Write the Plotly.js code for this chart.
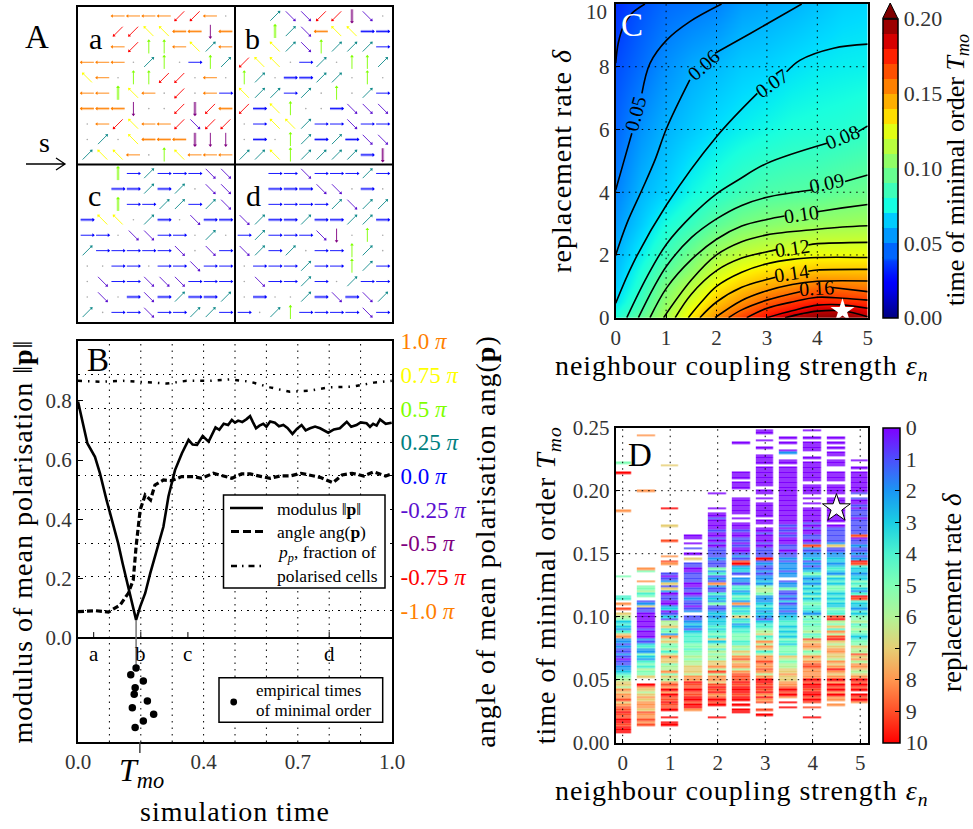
<!DOCTYPE html>
<html><head><meta charset="utf-8">
<script src="https://cdn.plot.ly/plotly-3.0.1.min.js"></script>
<style>html,body{margin:0;padding:0;background:#fff}
text[class*="title"]{letter-spacing:1px}</style></head><body>
<div id="plot" style="width:973px;height:829px"></div>
<script>
// ---------- Panel A: direction code per cell, row by row
// 0..7 = multiples of 45 degrees counter-clockwise from east, a..h = same but faint/thick, '.' = unpolarised, ' ' = empty
const fieldA=["  4444554.","  5533ee6e","  45224314","444.12.021","34.2255.4.","44c34.5.40","eee6..5g5e",".453445755",".1.3eeeg66","1334.23444"];
const fieldB=["  17755g7.","  c17e33aa","  31721110","533.01.221","21.aa11.2.","31101.2.10","5a32..a777",".033100700",".a.21a1a77","11321111ag"];
const fieldC=["  c0100077","  aa1a1.77","  c0011017","a33.1a.7aa","00.7700.1.","1000007.70","..00.00700",".700777000",".7.a7a1aa1","1.00700110"];
const fieldD=["  00700010","  aaa77.a.","  00001711","71aa1aa11a","0100076.2.","7101.0021.",".000100210",".70010.100",".a..1a7a71","0.12000070"];
const dirColors=["#0000ff","#108a8a","#7fff00","#ffff00","#ff7f00","#ff0000","#800080","#5a10d0"];

// ---------- Panel B
const modT=[0,.017,.03,.054,.07,.091,.112,.128,.142,.155,.168,.185,.198,.214,.23,.251,.272,.288,.309,.331,.352,.365,.379,.397,.416,.438,.45,.464,.478,.49,.5,.51,.523,.537,.548,.557,.567,.578,.59,.6,.612,.627,.64,.654,.667,.683,.697,.712,.725,.739,.755,.771,.785,.797,.815,.834,.845,.856,.87,.887,.9,.919,.93,.94,.951,.962,.98,.999];
const modV=[.797,.712,.656,.611,.555,.465,.387,.319,.252,.196,.139,.061,.106,.151,.218,.297,.375,.477,.566,.623,.668,.652,.651,.681,.662,.710,.702,.722,.718,.735,.726,.733,.728,.738,.748,.728,.707,.716,.722,.712,.730,.726,.714,.718,.708,.688,.705,.718,.700,.707,.713,.707,.699,.692,.703,.707,.718,.729,.712,.718,.727,.724,.712,.722,.716,.737,.722,.726];
const angT=[0,.054,.097,.134,.16,.176,.185,.198,.214,.231,.245,.272,.298,.33,.367,.394,.431,.463,.49,.521,.548,.585,.612,.644,.675,.71,.739,.771,.812,.841,.873,.91,.942,.98,.999];
const angV=[-1.007,-1,-1.01,-.958,-.871,-.772,-.525,-.252,-.141,-.178,-.067,-.03,-.035,-.005,-.005,-.017,.02,0,-.017,.015,.015,-.005,-.017,0,0,.02,.007,-.01,-.05,.007,.02,0,.03,0,.015];
const fracT=[0,.069,.144,.214,.283,.346,.416,.485,.548,.612,.675,.739,.8,.873,.942,.999];
const fracV=[.867,.864,.867,.862,.858,.867,.867,.872,.864,.845,.830,.834,.845,.847,.861,.867];
const emptT=[.185,.168,.208,.182,.179,.221,.173,.241,.208,.182];
const emptY=[-.101,-.124,-.145,-.168,-.190,-.212,-.235,-.257,-.280,-.302];
const tmoDip=.185, tmoTick=.197;
const snapT=[.05,.2,.35,.8], snapL=["a","b","c","d"];
const bGridX=[.1,.2,.3,.4,.5,.6,.7,.8,.9];
const bXTicks=[0,.4,.7,1];
const bXText=["0.0","0.4","0.7","1.0"];
const bLeftTicks=[0,.2,.4,.6,.8];
const bRightTicks=[1,.75,.5,.25,0,-.25,-.5,-.75,-1];
const bRightText=["1.0","0.75","0.5","0.25","0.0","-0.25","-0.5","-0.75","-1.0"];
const bRightColors=["#ff7f00","#ffff00","#7fff00","#008080","#0000ff","#5a10d0","#800080","#ff0000","#ff7f00"];

// ---------- Panel C
const epsC=[0,.5,1,1.5,2,2.5,3,3.5,4,4.5,5];
const delC=[0,.25,.5,1,1.5,2,3,4,6,8,10];
const zC=[
[.078,.094,.112,.133,.152,.169,.18,.192,.198,.2,.191],
[.074,.0885,.108,.129,.146,.16,.172,.179,.188,.188,.182],
[.0695,.085,.105,.1235,.14,.1515,.162,.17,.176,.174,.172],
[.065,.08,.0995,.1145,.13,.139,.146,.151,.158,.157,.155],
[.0625,.0765,.092,.105,.12,.129,.134,.1375,.141,.141,.141],
[.06,.072,.085,.098,.11,.118,.122,.1255,.128,.128,.128],
[.055,.065,.076,.0835,.0925,.099,.1025,.105,.107,.108,.109],
[.0505,.0605,.0665,.0745,.0795,.085,.0885,.09,.091,.094,.096],
[.045,.054,.06,.0645,.069,.072,.0745,.077,.078,.079,.081],
[.04,.0465,.0535,.0585,.0615,.065,.0665,.069,.071,.072,.0725],
[.034,.041,.046,.048,.0505,.056,.058,.06,.063,.066,.067]];
const c04=[[0,8.11],[.05,8.75],[.15,9.28],[.32,9.7],[.58,10]];
const c05=[[0,4.07],[.15,4.92],[.32,5.88],null,[.52,7.15],[.68,8.11],[1.01,8.85],[1.47,9.44],[2.1,10]];
const c06=[[0,2],[.22,3],[.52,4.07],[.78,5.03],[1.01,6.04],[1.47,7.58],null,[1.97,8.43],[2.67,9.06],[3.69,10]];
const c07=[[0,.46],[.35,1.75],[1.01,3.6],[2,5.77],[2.81,7.15],null,[3.39,7.84],[3.66,8.21],[4.32,8.59],[5,8.72]];
const c08=[[.22,0],[.62,1.3],[1.01,2.35],[1.54,3.3],[2,3.95],[2.43,4.39],[3,4.92],[4.19,5.56],null,[4.81,5.93],[5,6.11]];
const c09=[[.45,0],[.75,.95],[1.01,1.65],[1.5,2.55],[2,3.15],[2.5,3.58],[3,3.84],[3.89,4.07],null,[4.55,4.34],[5,4.55]];
const c10=[[.68,0],[1.01,.95],[1.5,1.85],[2,2.5],[2.5,2.92],[3,3.13],[3.35,3.24],null,[4,3.38],[4.5,3.5],[5,3.61]];
const c11=[[.95,0],[1.5,1.2],[2,2],[2.5,2.42],[3,2.64],[4,2.82],[4.5,2.89],[5,2.93]];
const c12=[[1.18,0],[1.5,.75],[2,1.5],[2.5,1.9],[3,2.1],[3.19,2.17],null,[3.82,2.32],[4,2.36],[5,2.4]];
const c13=[[1.44,0],[1.7,.5],[2,1],[2.5,1.45],[3,1.72],[3.5,1.86],[4,1.92],[5,1.92]];
const c14=[[1.67,0],[2,.5],[2.5,.97],[3,1.22],[3.17,1.29],null,[3.82,1.48],[4,1.52],[5,1.54]];
const c15=[[1.97,0],[2.5,.55],[3,.86],[3.5,1.06],[4,1.16],[5,1.17]];
const c16=[[2.24,0],[2.5,.25],[3,.56],[3.66,.83],null,[4.3,.96],[5,.83]];
const c17=[[2.6,0],[3,.3],[3.5,.5],[4,.65],[4.5,.62],[5,.56]];
const c18=[[3,0],[3.5,.22],[4,.4],[4.5,.41],[5,.3]];
const c19=[[3.36,0],[3.7,.13],[4,.21],[4.5,.22],[5,.03]];
const contoursC=[c04,c05,c06,c07,c08,c09,c10,c11,c12,c13,c14,c15,c16,c17,c18,c19];
const labelsC=[["0.05",.40,6.51,-75],["0.06",1.74,8.06,-42],["0.07",3.1,7.49,-35],["0.08",4.5,5.75,-22],["0.09",4.19,4.31,-12],["0.10",3.69,3.29,-8],["0.12",3.5,2.21,-8],["0.14",3.49,1.44,-8],["0.16",3.98,.96,-3]];
const levelsC=[.04,.05,.06,.07,.08,.09,.10,.11,.12,.13,.14,.15,.16,.17,.18,.19];

// ---------- Panel D: replacement rate digit per T row (T = .25 downward in .002 steps, five chunks of .05); a = 10, . = none
const epsD=[0,.5,1,1.5,2,2.5,3,3.5,4,4.5,5];
const colD0=["..............5...a......","........8................",".........5.......44.8.9.7","6534324782212112101122345","6776878897899a99aa9aaa..."];
const colD1=["...8.....................","8........................","......85...8.55645.127110","0000010002134225324546557","..a8767878887988989......"];
const colD2=["...............7.........",".......a......7.....9....",".8.98...10127172011002301","3166745286755646877566857","6898a8a99a99a..a.aa......"];
const colD3=[".........................","..................00.0.1.","0.7.11001111001101211012","1123213444455455656677768","8a99a99aa9aa8............"];
const colD4=[".........................",".0.....0.0010000100101011","1121115241218211423251123","2333434547356465657786968","879a9a89a9a....a........."];
const colD5=["......0...........000.000","...0000000.0.000100110100","1219a2331.221442354282434","7342344555446576897886899","9a9aaa9aa.a.aa..........."];
const colD6=[".00..0..0..0000.00000000.","00.0.000000.00.0010001011","11a1211212232566522234323","2134456745868746889889868","aa9a9a8a89..9.a.........."];
const colD7=["....0.0..02..00.000000000","0000000000000010101000110","1121222122.12251121312212","3344343435435554765667787","7889a9a8.a.a............."];
const colD8=[".0..0.0000..0.00000000.00","00.0.0.000000101001101921","2231212353232434353454432","5454556459788756878998888","a9aa9aa9a9.9...a........."];
const colD9=["....0.0.0.00.000..0000.00","00.0000000000.01111112711","2233234325343554343433544","9a6574869a76788776878a878","a8a9a8a88.8.............."];
const colD10=[".............0..0.0000000","01.1001011101111119011211","212a9433233545324a9433243","5564565434557669786887678","a9a9a.a9a8..............."];
const columnsD=[colD0,colD1,colD2,colD3,colD4,colD5,colD6,colD7,colD8,colD9,colD10];

// ---------- helpers
const W=973,H=829, SERIF="Liberation Serif, serif", TXT="#333";
const px=x=>x/W, py=y=>1-y/H;
const dx=(l,r)=>[l/W,r/W], dy=(t,b)=>[1-b/H,1-t/H];
function jet(t){const f=(p)=>{for(let i=1;i<p.length;i++){if(t<=p[i][0]){const a=p[i-1],b=p[i];return a[1]+(b[1]-a[1])*(t-a[0])/(b[0]-a[0]);}}return p[p.length-1][1];};
 const r=f([[0,0],[.35,0],[.66,1],[.89,1],[1,.5]]),g=f([[0,0],[.125,0],[.375,1],[.64,1],[.91,0],[1,0]]),b=f([[0,.5],[.11,1],[.34,1],[.65,0],[1,0]]);
 return `rgb(${Math.round(r*255)},${Math.round(g*255)},${Math.round(b*255)})`;}
const jetScale=[];for(let i=0;i<=50;i++)jetScale.push([i/50,jet(i/50)]);
const stepScale=[];
for(let i=0;i<=8;i++)stepScale.push([i/8*.19,jet(i/8*.19)]);
for(let k=4;k<20;k++){const a=k/20,b=(k+1)/20,c=jet((a+b)/2);stepScale.push([a+1e-4,c]);stepScale.push([b,c]);}
stepScale[0][0]=0;stepScale[stepScale.length-1][0]=1;
const rainbowScale=[[0,"#ff0000"],[.1,"#ff4f28"],[.2,"#ff964f"],[.3,"#e6ce74"],[.4,"#b2f396"],[.5,"#80ffb4"],[.6,"#4df3ce"],[.7,"#1acee3"],[.8,"#1a96f3"],[.9,"#4c4ffc"],[1,"#7f00ff"]];

const traces=[], shapes=[], annotations=[];
const ann=(text,x,y,size,extra)=>annotations.push(Object.assign({text,x:px(x),y:py(y),xref:"paper",yref:"paper",showarrow:false,font:{family:SERIF,size,color:"#000"},xanchor:"center",yanchor:"middle"},extra||{}));

// ---------- Panel A traces
function addField(field,ox,oy){
 field.forEach((row,j)=>{[...row].forEach((ch,i)=>{
  const cx=ox+.59+.98*i, cy=oy+.57+.98*j;
  if(ch==' ')return;
  if(ch=='.'){A.dots.x.push(cx);A.dots.y.push(cy);return;}
  const code="abcdefgh".indexOf(ch), thick=code>=0, k=thick?code:+ch;
  const th=k*Math.PI/4, ux=Math.cos(th)*.42, uy=-Math.sin(th)*.42;
  const L=A.dir[k];
  if(thick){L.px.push(cx-ux,cx+ux,null);L.py.push(cy-uy,cy+uy,null);}
  L.lx.push(cx-ux,cx+ux,null);L.ly.push(cy-uy,cy+uy,null);
  L.hx.push(cx+ux*.9);L.hy.push(cy+uy*.9);
 });});
}
const A={dots:{x:[],y:[]},dir:dirColors.map(()=>({lx:[],ly:[],px:[],py:[],hx:[],hy:[]}))};
addField(fieldA,0,0);addField(fieldB,10,0);addField(fieldC,0,10);addField(fieldD,10,10);
A.dir.forEach((L,k)=>{
 traces.push({x:L.px,y:L.py,mode:"lines",line:{color:dirColors[k],width:3},opacity:.32,xaxis:"x",yaxis:"y",hoverinfo:"skip"});
 traces.push({x:L.lx,y:L.ly,mode:"lines",line:{color:dirColors[k],width:.9},xaxis:"x",yaxis:"y",hoverinfo:"skip"});
 traces.push({x:L.hx,y:L.hy,mode:"markers",marker:{symbol:"triangle-up",size:3.2,color:dirColors[k],angle:90-45*k,line:{width:0}},xaxis:"x",yaxis:"y",hoverinfo:"skip"});
});
traces.push({x:A.dots.x,y:A.dots.y,mode:"markers",marker:{size:1.6,color:"#aaa"},xaxis:"x",yaxis:"y",hoverinfo:"skip"});

// ---------- Panel B traces
traces.push({x:[tmoDip,tmoDip],y:[.06,-.1],mode:"lines",line:{color:"#777",width:1.5},xaxis:"x2",yaxis:"y2"});
traces.push({x:fracT,y:fracV,mode:"lines",line:{color:"#000",width:2.5,dash:"4px,6px,1.5px,6px"},xaxis:"x2",yaxis:"y2"});
traces.push({x:modT,y:modV,mode:"lines",line:{color:"#000",width:2.6},xaxis:"x2",yaxis:"y2"});
traces.push({x:angT,y:angV,mode:"lines",line:{color:"#000",width:3.2,dash:"6px,3px"},xaxis:"x2",yaxis:"y3"});
traces.push({x:emptT,y:emptY,mode:"markers",marker:{color:"#000",size:7.5},xaxis:"x2",yaxis:"y2"});
traces.push({x:snapT.flatMap(t=>[t,t,null]),y:snapT.flatMap(()=>[0,.02,null]),mode:"lines",line:{color:"#000",width:1},xaxis:"x2",yaxis:"y2"});

// ---------- Panel C traces
traces.push({type:"heatmap",x:epsC,y:delC,z:zC,zmin:0,zmax:.2,colorscale:jetScale,zsmooth:"best",showscale:false,xaxis:"x3",yaxis:"y4"});
contoursC.forEach(c=>traces.push({x:c.map(p=>p?p[0]:null),y:c.map(p=>p?p[1]:null),mode:"lines",line:{color:"#000",width:1.6,shape:"spline",smoothing:1},xaxis:"x3",yaxis:"y4",hoverinfo:"skip"}));
traces.push({x:[4.5],y:[.22],mode:"markers",marker:{symbol:"star",size:18,color:"#fff",line:{width:0}},xaxis:"x3",yaxis:"y4"});
// colour bar of panel C
traces.push({x:[null],y:[null],mode:"markers",xaxis:"x3",yaxis:"y4",marker:{color:[0],cmin:0,cmax:.2,colorscale:stepScale,showscale:true,
 colorbar:{x:px(882.7),xanchor:"left",xpad:0,ypad:0,thickness:15,thicknessmode:"pixels",len:(317.7-18.3)/H,lenmode:"fraction",y:py(317.7),yanchor:"bottom",
 outlinecolor:"#000",outlinewidth:1.5,tickvals:[0,.05,.1,.15,.2],ticktext:["0.00","0.05","0.10","0.15","0.20"],ticks:"",tickfont:{family:SERIF,size:22,color:TXT}}}});
ann("time of minimal order <i>T<sub>mo</sub></i>",957,170,26,{textangle:-90});
levelsC.forEach(l=>{const yy=317.7-(317.7-18.3)*l/.2;shapes.push({type:"line",xref:"paper",yref:"paper",x0:px(882.7),x1:px(897.7),y0:py(yy),y1:py(yy),line:{color:"#000",width:1}});});
shapes.push({type:"path",xref:"paper",yref:"paper",path:`M${px(882.7)},${py(18.3)} L${px(890.2)},${py(3)} L${px(897.7)},${py(18.3)} Z`,fillcolor:"#7f0000",line:{color:"#000",width:1}});
labelsC.forEach(l=>annotations.push({text:l[0],x:l[1],y:l[2],xref:"x3",yref:"y4",showarrow:false,textangle:l[3],font:{family:SERIF,size:20,color:"#000"}}));
ann("10",609,12,21,{xanchor:"right",font:{family:SERIF,size:21,color:TXT}});

// ---------- Panel D traces
const rowsD=[];for(let i=0;i<125;i++)rowsD.push(.25-.002*i);
const strD=columnsD.map(c=>c.map(s=>(s+".".repeat(25)).slice(0,25)).join(""));
const zD=rowsD.map((_,r)=>strD.map(s=>{const ch=s[r];return ch=="."?null:(ch=="a"?-10:-(+ch));}));
traces.push({type:"heatmap",x:epsD,y:rowsD,z:zD,zmin:-10,zmax:0,colorscale:rainbowScale,xgap:5.7,ygap:.4,showscale:true,hoverongaps:false,xaxis:"x4",yaxis:"y5",
 colorbar:{x:px(882.7),xanchor:"left",xpad:0,ypad:0,thickness:16.6,thicknessmode:"pixels",len:315/H,lenmode:"fraction",y:py(742.7),yanchor:"bottom",outlinecolor:"#000",outlinewidth:1.5,
 tickvals:[0,-1,-2,-3,-4,-5,-6,-7,-8,-9,-10],ticktext:["0","1","2","3","4","5","6","7","8","9","10"],ticks:"inside",ticklen:5,tickcolor:"#000",tickfont:{family:SERIF,size:22,color:TXT}}});
traces.push({x:[4.5],y:[.186],mode:"markers",marker:{symbol:"star",size:21,color:"#fff",line:{width:1,color:"#000"}},xaxis:"x4",yaxis:"y5"});
ann("replacement rate <i>δ</i>",952,593,27,{textangle:-90});

// ---------- grid lines
const dot={color:"#000",width:1,dash:"1.5px,5px"};
bGridX.forEach(v=>shapes.push({type:"line",layer:"below",xref:"x2",yref:"paper",x0:v,x1:v,y0:py(742),y1:py(341),line:dot}));
[1,2,3,4].forEach(v=>shapes.push({type:"line",xref:"x3",yref:"y4",x0:v,x1:v,y0:0,y1:10,line:dot}));
[2,4,6,8].forEach(v=>shapes.push({type:"line",xref:"x3",yref:"y4",x0:0,x1:5,y0:v,y1:v,line:dot}));
[0,1,2,3,4,5].forEach(v=>shapes.push({type:"line",xref:"x4",yref:"y5",x0:v,x1:v,y0:0,y1:.25,line:dot}));
[.05,.1,.15,.2].forEach(v=>shapes.push({type:"line",xref:"x4",yref:"y5",x0:-.147,x1:5.158,y0:v,y1:v,line:dot}));

// ---------- Panel A decoration
shapes.push({type:"line",xref:"x",yref:"y",x0:10,x1:10,y0:0,y1:20,line:{color:"#000",width:2}});
shapes.push({type:"line",xref:"x",yref:"y",x0:0,x1:20,y0:10,y1:10,line:{color:"#000",width:2}});
shapes.push({type:"path",xref:"paper",yref:"paper",path:`M${px(26)},${py(164)} L${px(65)},${py(164)} M${px(56)},${py(158)} L${px(65)},${py(164)} L${px(56)},${py(170)}`,line:{color:"#000",width:1.3}});
ann("A",36.7,37,33);ann("s",44,142,28);
ann("a",95.7,38,30);ann("b",252.7,38,30);ann("c",94,196,30);ann("d",253,195,30);

// ---------- Panel B decoration
ann("B",98,360,33);
snapT.forEach((t,i)=>annotations.push({text:snapL[i],x:t,y:-.055,xref:"x2",yref:"y2",showarrow:false,font:{family:SERIF,size:21,color:"#000"}}));
shapes.push({type:"line",xref:"x2",yref:"paper",x0:tmoTick,x1:tmoTick,y0:py(742),y1:py(753),line:{color:"#444",width:1.5}});
ann("<i>T<sub>mo</sub></i>",141,772,32);
shapes.push({type:"rect",xref:"paper",yref:"paper",x0:px(223.5),x1:px(385),y0:py(495),y1:py(588),fillcolor:"#fff",line:{color:"#000",width:1.5}});
shapes.push({type:"line",xref:"paper",yref:"paper",x0:px(230),x1:px(263),y0:py(508),y1:py(508),line:{color:"#000",width:2.5}});
shapes.push({type:"line",xref:"paper",yref:"paper",x0:px(231),x1:px(263),y0:py(531.5),y1:py(531.5),line:{color:"#000",width:3,dash:"8px,4px"}});
shapes.push({type:"line",xref:"paper",yref:"paper",x0:px(231),x1:px(263),y0:py(566),y1:py(566),line:{color:"#000",width:2.5,dash:"6px,5px,1.5px,5px"}});
const lg={xanchor:"left"};
ann("modulus ‖<b>p</b>‖",275,509,17.5,lg);ann("angle ang(<b>p</b>)",275,532,17.5,lg);
ann("<i>p<sub>p</sub></i>, fraction of",275,553,17.5,lg);ann("polarised cells",275,576,17.5,lg);
shapes.push({type:"rect",xref:"paper",yref:"paper",x0:px(219),x1:px(382.7),y0:py(677.7),y1:py(722.3),fillcolor:"#fff",line:{color:"#000",width:1.5}});
ann("empirical times",254,690,17,lg);ann("of minimal order",254,710,17,lg);
ann("C",632,25,33,{font:{family:SERIF,size:33,color:"#fff"}});
ann("D",640,455,33);
shapes.push({type:"circle",xref:"paper",yref:"paper",x0:px(230.3),x1:px(237.1),y0:py(698.6),y1:py(705.4),fillcolor:"#000",line:{width:0}});

const axisLine={showline:true,linecolor:"#000",linewidth:2,mirror:true,zeroline:false};
const tf={family:SERIF,size:21,color:TXT};
const tt=(text,standoff)=>({text,standoff,font:{family:SERIF,size:28,color:"#000"}});
const layout={width:W,height:H,margin:{l:0,r:0,t:0,b:0,autoexpand:false},showlegend:false,paper_bgcolor:"#fff",plot_bgcolor:"rgba(0,0,0,0)",font:{family:SERIF},
 hovermode:false,shapes,annotations,
 xaxis:Object.assign({},axisLine,{domain:dx(78,392),range:[0,20],showticklabels:false,ticks:"",showgrid:false,anchor:"y"}),
 yaxis:Object.assign({},axisLine,{domain:dy(7,322),range:[20,0],showticklabels:false,ticks:"",showgrid:false,anchor:"x"}),
 xaxis2:Object.assign({},axisLine,{domain:dx(78,392),range:[0,1],anchor:"y2",tickvals:bXTicks,ticktext:bXText,ticks:"",tickfont:tf,showgrid:false,title:tt("simulation time",28)}),
 yaxis2:Object.assign({},axisLine,{domain:dy(341,742),range:[-.3506,1.0013],anchor:"x2",tickvals:bLeftTicks,tickformat:".1f",ticks:"inside",ticklen:5,tickcolor:"#000",tickfont:tf,showgrid:false,zeroline:true,zerolinecolor:"#000",zerolinewidth:2,title:tt("modulus of mean polarisation ‖<b>p</b>‖",5)}),
 yaxis3:{domain:dy(341,742),range:[-1.975,1.002],overlaying:"y2",side:"right",anchor:"x2",tickvals:bRightTicks,ticktext:bRightText.map((t,i)=>`<span style="color:${bRightColors[i]}">${t} <i>π</i></span>`),ticks:"outside",ticklen:3,tickcolor:"rgba(0,0,0,0)",tickfont:{family:SERIF,size:23,color:TXT},showgrid:true,gridcolor:"#000",griddash:"1.5px,5px",gridwidth:1,zeroline:false,showline:false,title:tt("angle of mean polarisation ang(<b>p</b>)",9)},
 xaxis3:Object.assign({},axisLine,{domain:dx(615.7,867.7),range:[0,5],anchor:"y4",tickvals:[0,1,2,3,4,5],ticks:"inside",ticklen:4,tickcolor:"#000",tickfont:tf,showgrid:false,title:tt("neighbour coupling strength <i>ε<sub>n</sub></i>",1)}),
 yaxis4:Object.assign({},axisLine,{domain:dy(4,317.7),range:[0,10],anchor:"x3",tickvals:[0,2,4,6,8],ticks:"inside",ticklen:4,tickcolor:"#000",tickfont:tf,showgrid:false,title:tt("replacement rate <i>δ</i>",19)}),
 xaxis4:Object.assign({},axisLine,{domain:dx(615.7,867.7),range:[-.147,5.158],anchor:"y5",tickvals:[0,1,2,3,4,5],ticks:"inside",ticklen:4,tickcolor:"#000",tickfont:tf,showgrid:false,title:tt("neighbour coupling strength <i>ε<sub>n</sub></i>",1)}),
 yaxis5:Object.assign({},axisLine,{domain:dy(427.7,742.7),range:[0,.25],anchor:"x4",tickvals:[0,.05,.1,.15,.2,.25],tickformat:".2f",ticks:"inside",ticklen:4,tickcolor:"#000",tickfont:tf,showgrid:false,title:tt("time of minimal order <i>T<sub>mo</sub></i>",9)})
};
Plotly.newPlot("plot",traces,layout,{displayModeBar:false,staticPlot:true});
</script></body></html>
